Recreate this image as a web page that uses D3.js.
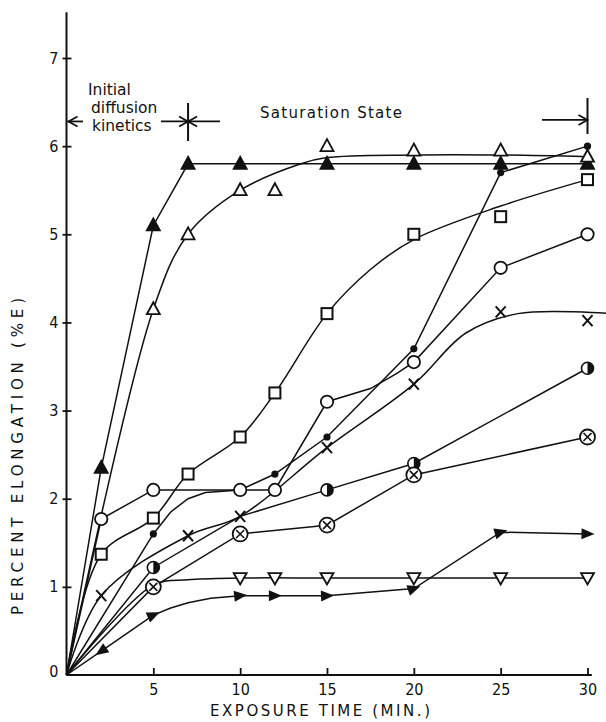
<!DOCTYPE html>
<html>
<head>
<meta charset="utf-8">
<script src="https://cdn.jsdelivr.net/npm/d3@7"></script>
<style>
body { margin: 0; background: #fff; }
text { font-family: "DejaVu Sans", sans-serif; fill: #111; }
.tick text { font-family: "DejaVu Sans Condensed", "DejaVu Sans", sans-serif; font-size: 16px; }
</style>
</head>
<body>
<div id="chart-container"></div>
<script>
// values: exposure time (min) vs percent elongation
const xTickValues = [5, 10, 15, 20, 25, 30];
const yTickValues = [0, 1, 2, 3, 4, 5, 6, 7];

// filled triangle up
const solidUpPts = [[2, 2.35], [5, 5.1], [7, 5.8], [10, 5.8], [15, 5.8], [20, 5.8], [25, 5.8], [30, 5.8]];
const solidUpLine = [[0, 0], [2, 2.35], [5, 5.1], [7, 5.8], [10, 5.8], [15, 5.8], [20, 5.8], [25, 5.8], [30, 5.8]];

// open triangle up (drawn curve is a fit, not through every point)
const openUpPts = [[5, 4.15], [7, 5.0], [10, 5.5], [12, 5.5], [15, 6.0], [20, 5.95], [25, 5.95], [30, 5.88]];
const openUpLine = [[0, 0], [5, 4.15], [7, 5.0], [10, 5.5], [13.5, 5.8], [15, 5.87], [20, 5.9], [25, 5.9], [30, 5.88]];

// small dot
const dotPts = [[5, 1.6], [12, 2.28], [15, 2.7], [20, 3.7], [25, 5.7], [30, 6.0]];
const dotLine = [[0, 0], [5, 1.6], [6, 1.85], [7, 2.0], [8, 2.07], [10, 2.1], [12, 2.28], [15, 2.7], [20, 3.7], [25, 5.7], [30, 6.0]];

// open circle
const circlePts = [[2, 1.77], [5, 2.1], [10, 2.1], [12, 2.1], [15, 3.1], [20, 3.55], [25, 4.62], [30, 5.0]];
const circleLine = [[0, 0], [2, 1.77], [5, 2.1], [10, 2.1], [12, 2.1], [15, 3.1], [17.5, 3.25], [19, 3.42], [20, 3.55], [25, 4.62], [30, 5.0]];

// open square
const squarePts = [[2, 1.37], [5, 1.78], [7, 2.28], [10, 2.7], [12, 3.2], [15, 4.1], [20, 5.0], [25, 5.2], [30, 5.62]];
const squareLine = [[0, 0], [2, 1.37], [5, 1.78], [7, 2.28], [10, 2.7], [12, 3.2], [15, 4.1], [17.5, 4.6], [20, 4.94], [25, 5.32], [30, 5.62]];

// cross
const crossPts = [[2, 0.9], [7, 1.58], [10, 1.8], [15, 2.58], [20, 3.3], [25, 4.12], [30, 4.02]];
const crossLine = [[0, 0], [2, 0.9], [7, 1.58], [10, 1.8], [15, 2.58], [20, 3.3], [23, 3.88], [26, 4.1], [31.3, 4.1]];

// half filled circle
const halfPts = [[5, 1.22], [15, 2.1], [20, 2.4], [30, 3.48]];
const halfLine = [[0, 0], [5, 1.22], [10, 1.8], [15, 2.1], [20, 2.4], [30, 3.48]];

// circle with x
const circleXPts = [[5, 1.0], [10, 1.6], [15, 1.7], [20, 2.27], [30, 2.7]];
const circleXLine = [[0, 0], [5, 1.0], [10, 1.6], [15, 1.7], [20, 2.27], [30, 2.7]];

// open triangle down
const openDownPts = [[10, 1.1], [12, 1.1], [15, 1.1], [20, 1.1], [25, 1.1], [30, 1.1]];
const openDownLine = [[0, 0], [5, 1.02], [7, 1.08], [10, 1.1], [15, 1.1], [20, 1.1], [25, 1.1], [30, 1.1]];

// filled arrow-head triangles
const arrowPts = [[2, 0.27], [5, 0.68], [10, 0.9], [12, 0.9], [15, 0.9], [20, 0.98], [25, 1.62], [30, 1.6]];
const arrowLine = [[0, 0], [2, 0.27], [5, 0.68], [6, 0.76], [7, 0.82], [8.3, 0.87], [10, 0.9], [12, 0.9], [15, 0.9], [20, 0.98], [25, 1.62], [30, 1.6]];

const smooth = d3.curveCatmullRom.alpha(0.5);
const series = [
    {pts: solidUpPts, line: solidUpLine, shape: "solidUp", curve: d3.curveLinear},
    {pts: openUpPts, line: openUpLine, shape: "openUp", curve: smooth},
    {pts: dotPts, line: dotLine, shape: "dot", curve: d3.curveLinear},
    {pts: circlePts, line: circleLine, shape: "circle", curve: d3.curveLinear},
    {pts: squarePts, line: squareLine, shape: "square", curve: smooth},
    {pts: crossPts, line: crossLine, shape: "cross", curve: smooth},
    {pts: halfPts, line: halfLine, shape: "half", curve: d3.curveLinear},
    {pts: circleXPts, line: circleXLine, shape: "circleX", curve: d3.curveLinear},
    {pts: openDownPts, line: openDownLine, shape: "openDown", curve: smooth},
    {pts: arrowPts, line: arrowLine, shape: "arrow", curve: d3.curveLinear}
];

const chartWidth = 606;
const chartHeight = 722;
const ink = "#111";

const x = d3.scaleLinear()
    .domain([0, 30])
    .range([66.5, 587.5]);

const y = d3.scaleLinear()
    .domain([0, 7])
    .range([675, 58]);

const chart = d3.select("#chart-container").append("svg")
    .attr("width", chartWidth)
    .attr("height", chartHeight);

// axes lines, drawn a bit past the last tick like the original
chart.append("line")
    .attr("x1", x(0)).attr("x2", x(0))
    .attr("y1", y(0)).attr("y2", y(7.52))
    .attr("stroke", ink).attr("stroke-width", 2);
chart.append("line")
    .attr("x1", x(0)).attr("x2", x(30.25))
    .attr("y1", y(0)).attr("y2", y(0))
    .attr("stroke", ink).attr("stroke-width", 2);

const xAxis = chart.append("g")
    .attr("transform", `translate(0, ${y(0)})`)
    .call(d3.axisBottom(x).tickValues(xTickValues).tickSizeInner(-7).tickSizeOuter(0).tickPadding(9));
xAxis.select(".domain").remove();
xAxis.selectAll(".tick line").attr("stroke", ink).attr("stroke-width", 1.8);

const yAxis = chart.append("g")
    .attr("transform", `translate(${x(0)}, 0)`)
    .call(d3.axisLeft(y).tickValues(yTickValues).tickFormat(d3.format("d"))
        .tickSizeInner(4).tickSizeOuter(0).tickPadding(4));
yAxis.select(".domain").remove();
yAxis.selectAll(".tick line")
    .attr("x2", -4).attr("x1", 5)
    .attr("stroke", ink).attr("stroke-width", 1.8)
    .filter(d => d === 0).remove();
yAxis.selectAll(".tick").filter(d => d === 0).select("text").attr("dy", "0.1em");

// axis titles
chart.append("text")
    .attr("x", 210).attr("y", 716)
    .attr("textLength", 220).attr("lengthAdjust", "spacing")
    .style("font-size", "15px")
    .text("EXPOSURE TIME (MIN.)");

chart.append("text")
    .attr("transform", "translate(23, 615) rotate(-90)")
    .attr("textLength", 317).attr("lengthAdjust", "spacing")
    .style("font-size", "15px")
    .text("PERCENT ELONGATION (%E)");

// curves
chart.selectAll(".curve")
    .data(series)
    .enter()
    .append("path")
    .attr("class", "curve")
    .attr("d", d => d3.line()
        .x(p => x(p[0]))
        .y(p => y(p[1]))
        .curve(d.curve)(d.line))
    .attr("fill", "none")
    .attr("stroke", ink)
    .attr("stroke-width", 1.5);

// markers
function drawMarker(g, shape, angle) {
    if (shape === "solidUp" || shape === "openUp") {
        g.append("path").attr("d", "M0,-7L6.5,5L-6.5,5Z")
            .attr("fill", shape === "solidUp" ? ink : "#fff")
            .attr("stroke", ink).attr("stroke-width", 1.8);
    } else if (shape === "openDown") {
        g.append("path").attr("d", "M-6.5,-5L6.5,-5L0,6.5Z")
            .attr("fill", "#fff").attr("stroke", ink).attr("stroke-width", 1.8);
    } else if (shape === "dot") {
        g.append("circle").attr("r", 3.6).attr("fill", ink);
    } else if (shape === "circle") {
        g.append("circle").attr("r", 6.2)
            .attr("fill", "#fff").attr("stroke", ink).attr("stroke-width", 1.8);
    } else if (shape === "square") {
        g.append("rect").attr("x", -5.5).attr("y", -5.5).attr("width", 11).attr("height", 11)
            .attr("fill", "#fff").attr("stroke", ink).attr("stroke-width", 2);
    } else if (shape === "cross") {
        g.append("path").attr("d", "M-5,-5.5L5,5.5M-5,5.5L5,-5.5")
            .attr("stroke", ink).attr("stroke-width", 2);
    } else if (shape === "circleX") {
        g.append("circle").attr("r", 7.5)
            .attr("fill", "#fff").attr("stroke", ink).attr("stroke-width", 1.8);
        g.append("path").attr("d", "M-4,-4L4,4M-4,4L4,-4")
            .attr("stroke", ink).attr("stroke-width", 1.6);
    } else if (shape === "half") {
        g.append("circle").attr("r", 6)
            .attr("fill", "#fff").attr("stroke", ink).attr("stroke-width", 1.6);
        g.append("path").attr("d", "M0,-6A6,6 0 0,1 0,6Z").attr("fill", ink);
    } else if (shape === "arrow") {
        g.append("path").attr("d", "M7,0L-6,-5.5L-6,5.5Z")
            .attr("transform", `rotate(${angle})`)
            .attr("fill", ink);
    }
}

function pixelAngle(a, b) {
    return Math.atan2(y(b[1]) - y(a[1]), x(b[0]) - x(a[0])) * 180 / Math.PI;
}

series.forEach(s => {
    s.pts.forEach((p, i) => {
        let angle = 0;
        if (s.shape === "arrow") {
            if (i === 0) {
                angle = pixelAngle(p, [0, 0]);
            } else {
                const inA = pixelAngle(s.pts[i - 1], p);
                const outA = i < s.pts.length - 1 ? pixelAngle(p, s.pts[i + 1]) : inA;
                angle = (inA + outA) / 2;
            }
        }
        const g = chart.append("g")
            .attr("transform", `translate(${x(p[0])}, ${y(p[1])})`);
        drawMarker(g, s.shape, angle);
    });
});

// annotations
const noteY = y(6.28);

function arrowHead(tipX, tipY, dir) {
    chart.append("path")
        .attr("d", `M${tipX - dir * 9},${tipY - 5}L${tipX},${tipY}L${tipX - dir * 9},${tipY + 5}`)
        .attr("fill", "none").attr("stroke", ink).attr("stroke-width", 1.8);
}

["Initial", "diffusion", "kinetics"].forEach((t, i) => {
    chart.append("text")
        .attr("x", [88, 91, 92][i]).attr("y", 95 + i * 18)
        .style("font-size", "15.5px")
        .text(t);
});

chart.append("line")
    .attr("x1", x(0) + 1).attr("x2", 83).attr("y1", noteY).attr("y2", noteY)
    .attr("stroke", ink).attr("stroke-width", 1.8);
arrowHead(x(0) + 2, noteY, -1);

chart.append("line")
    .attr("x1", 161).attr("x2", 220).attr("y1", noteY).attr("y2", noteY)
    .attr("stroke", ink).attr("stroke-width", 1.8);
chart.append("line")
    .attr("x1", x(7)).attr("x2", x(7)).attr("y1", 103).attr("y2", 141)
    .attr("stroke", ink).attr("stroke-width", 2);
arrowHead(x(7), noteY, 1);
arrowHead(x(7), noteY, -1);

chart.append("text")
    .attr("x", 260).attr("y", 118)
    .attr("textLength", 142).attr("lengthAdjust", "spacing")
    .style("font-size", "15px")
    .text("Saturation State");

chart.append("line")
    .attr("x1", 542).attr("x2", x(30)).attr("y1", noteY - 1.5).attr("y2", noteY - 1.5)
    .attr("stroke", ink).attr("stroke-width", 1.8);
chart.append("line")
    .attr("x1", x(30)).attr("x2", x(30)).attr("y1", 98).attr("y2", 134)
    .attr("stroke", ink).attr("stroke-width", 2);
arrowHead(x(30), noteY - 1.5, 1);
</script>
</body>
</html>
